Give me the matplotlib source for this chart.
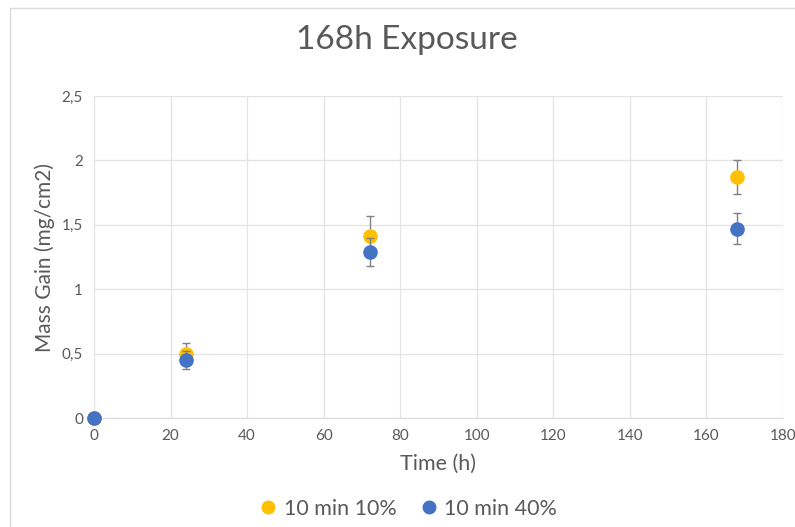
import matplotlib
matplotlib.use("Agg")
import matplotlib.pyplot as plt
from matplotlib.lines import Line2D
from matplotlib.patches import Rectangle

plt.rcParams['font.family'] = ['Lato', 'DejaVu Sans']

time_h = [0, 24, 72, 168]
gain_10 = [0, 0.50, 1.41, 1.87]
err_10 = [0, 0.08, 0.16, 0.13]
gain_40 = [0, 0.45, 1.29, 1.47]
err_40 = [0, 0.07, 0.11, 0.12]

x_ticks = [0, 20, 40, 60, 80, 100, 120, 140, 160, 180]
y_ticks = [0, 0.5, 1, 1.5, 2, 2.5]
y_ticklabels = ['0', '0,5', '1', '1,5', '2', '2,5']

txt = '#595959'
grid = '#e3e3e3'
yellow = '#FFC000'
blue = '#4472C4'

fig = plt.figure(figsize=(7.95, 5.27), dpi=100)
# chart area frame
fig.patches.append(Rectangle((10/795, -0.1), 1.0, 1 - 8/527 + 0.1, transform=fig.transFigure,
                             fill=False, edgecolor='#d9d9d9', lw=1))
ax = fig.add_axes([94/795, 1 - 418/527, 689/795, 322/527])

ax.errorbar(time_h, gain_10, yerr=err_10, fmt='o', color=yellow, ms=9.5,
            ecolor='#808080', elinewidth=1, capsize=3, capthick=1, zorder=3)
ax.errorbar(time_h, gain_40, yerr=err_40, fmt='o', color=blue, ms=9.5,
            ecolor='#808080', elinewidth=1, capsize=3, capthick=1, zorder=4)

ax.set_xlim(0, 180)
ax.set_ylim(0, 2.5)
ax.set_xticks(x_ticks)
ax.set_yticks(y_ticks)
ax.set_yticklabels(y_ticklabels)
ax.grid(True, color=grid, lw=0.9)
ax.set_axisbelow(True)
for s in ['top', 'right', 'left']:
    ax.spines[s].set_visible(False)
ax.spines['bottom'].set_color('#d9d9d9')
ax.tick_params(length=0, labelsize=11, colors=txt, pad=8)
ax.set_xlabel('Time (h)', fontsize=15.5, color=txt, labelpad=8)
ax.set_ylabel('Mass Gain (mg/cm2)', fontsize=15, color=txt, labelpad=5)
for line in ax.get_lines():
    line.set_clip_on(False)

# title centred on the whole chart area
fig.text(407/795, 1 - 40/527, '168h Exposure', fontsize=24, color=txt,
         ha='center', va='center')

handles = [Line2D([], [], ls='none', marker='o', ms=9, color=yellow),
           Line2D([], [], ls='none', marker='o', ms=9, color=blue)]
leg = fig.legend(handles, ['10 min 10%', '10 min 40%'], loc='center',
                 bbox_to_anchor=(406/795, 1 - 509/527), ncol=2, frameon=False, fontsize=15.5,
                 handletextpad=0.1, columnspacing=0.9, handlelength=1.2)
for t in leg.get_texts():
    t.set_color(txt)

fig.savefig('out.png', dpi=100)
